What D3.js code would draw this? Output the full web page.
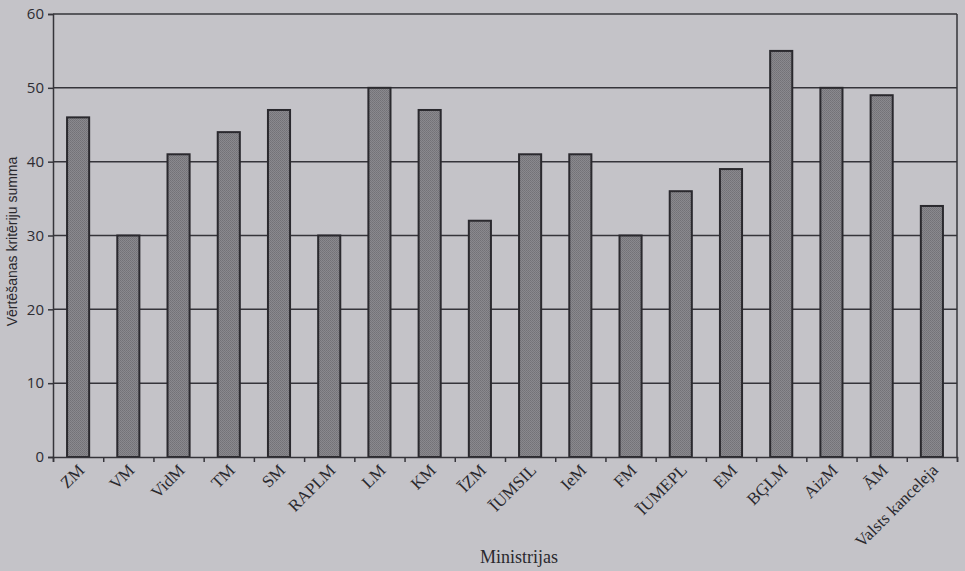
<!DOCTYPE html>
<html>
<head>
<meta charset="utf-8">
<script src="https://cdn.jsdelivr.net/npm/d3@7/dist/d3.min.js"></script>
<style>
  html, body { margin: 0; padding: 0; background: #c4c3c8; }
  svg { display: block; }
</style>
</head>
<body>
<svg id="chart" width="965" height="571"></svg>
<script>
// Ministries and their evaluation-criteria totals
const categories = ["ZM", "VM", "VidM", "TM", "SM", "RAPLM", "LM", "KM", "ĪZM",
  "ĪUMSIL", "IeM", "FM", "ĪUMEPL", "EM", "BĢLM", "AizM", "ĀM", "Valsts kanceleja"];
const values = [46, 30, 41, 44, 47, 30, 50, 47, 32, 41, 41, 30, 36, 39, 55, 50, 49, 34];
const yTicks = [0, 10, 20, 30, 40, 50, 60];
const yTitle = "Vērtēšanas kritēriju summa";
const xTitle = "Ministrijas";

const svg = d3.select("#chart");
const W = 965, H = 571;
const plotLeft = 53, plotRight = 957, plotTop = 14, plotBottom = 457;

svg.append("rect").attr("width", W).attr("height", H).attr("fill", "#c4c3c8");

// stippled bar fill
const defs = svg.append("defs");
const pat = defs.append("pattern").attr("id", "stipple")
  .attr("patternUnits", "userSpaceOnUse").attr("width", 2).attr("height", 2);
pat.append("rect").attr("width", 2).attr("height", 2).attr("fill", "#8a898e");
pat.append("rect").attr("width", 1).attr("height", 1).attr("fill", "#737277");
pat.append("rect").attr("x", 1).attr("y", 1).attr("width", 1).attr("height", 1).attr("fill", "#78777c");

const x = d3.scaleBand().domain(categories).range([plotLeft, plotRight])
  .paddingInner(0.56).paddingOuter(0.28);
const y = d3.scaleLinear().domain([0, 60]).range([plotBottom, plotTop]);

const lineColor = "#35343a";

// horizontal gridlines
svg.append("g").selectAll("line").data(yTicks.filter(d => d > 0)).join("line")
  .attr("x1", plotLeft).attr("x2", plotRight)
  .attr("y1", d => y(d)).attr("y2", d => y(d))
  .attr("stroke", lineColor).attr("stroke-width", 1.5);

// right frame edge
svg.append("line").attr("x1", plotRight).attr("x2", plotRight)
  .attr("y1", plotTop).attr("y2", plotBottom)
  .attr("stroke", lineColor).attr("stroke-width", 1.5);

// bars
svg.append("g").selectAll("rect").data(categories).join("rect")
  .attr("x", d => x(d))
  .attr("y", (d, i) => y(values[i]))
  .attr("width", x.bandwidth())
  .attr("height", (d, i) => plotBottom - y(values[i]))
  .attr("fill", "url(#stipple)")
  .attr("stroke", "#2a292e").attr("stroke-width", 2);

// y axis
const yAxis = svg.append("g").attr("transform", `translate(${plotLeft},0)`)
  .call(d3.axisLeft(y).tickValues(yTicks).tickSize(5).tickPadding(4));
yAxis.select(".domain").attr("stroke", lineColor).attr("stroke-width", 1.5);
yAxis.selectAll(".tick line").attr("stroke", lineColor).attr("stroke-width", 1.5);
yAxis.selectAll(".tick text")
  .attr("fill", "#2e2d33")
  .style("font-family", "'Open Sans', 'Liberation Sans', sans-serif")
  .style("font-size", "15px");

// x axis: boundary ticks between categories
const xb = d3.scaleLinear().domain([0, categories.length]).range([plotLeft, plotRight]);
const xAxis = svg.append("g").attr("transform", `translate(0,${plotBottom})`)
  .call(d3.axisBottom(xb).tickValues(d3.range(categories.length + 1)).tickSize(5).tickFormat(""));
xAxis.select(".domain").attr("stroke", lineColor).attr("stroke-width", 1.5);
xAxis.selectAll(".tick line").attr("stroke", lineColor).attr("stroke-width", 1.5);

// category labels, rotated 45° and ending under each bar
svg.append("g").selectAll("text").data(categories).join("text")
  .attr("transform", d => `translate(${x(d) + x.bandwidth() / 2 + 3},${plotBottom + 10}) rotate(-45)`)
  .attr("text-anchor", "end")
  .attr("dy", "0.35em")
  .attr("fill", "#2a292e")
  .style("font-family", "'Liberation Serif', 'DejaVu Serif', serif")
  .style("font-size", "17px")
  .text(d => d);

// axis titles
svg.append("text")
  .attr("transform", `translate(17,${(plotTop + plotBottom) / 2 + 6}) rotate(-90)`)
  .attr("text-anchor", "middle")
  .attr("fill", "#2a292e")
  .style("font-family", "'Liberation Sans Narrow', 'Liberation Sans', sans-serif")
  .style("font-size", "14px")
  .text(yTitle);

svg.append("text")
  .attr("x", 519).attr("y", 563)
  .attr("text-anchor", "middle")
  .attr("fill", "#2a292e")
  .style("font-family", "'Liberation Serif', 'DejaVu Serif', serif")
  .style("font-size", "18px")
  .text(xTitle);
</script>
</body>
</html>
